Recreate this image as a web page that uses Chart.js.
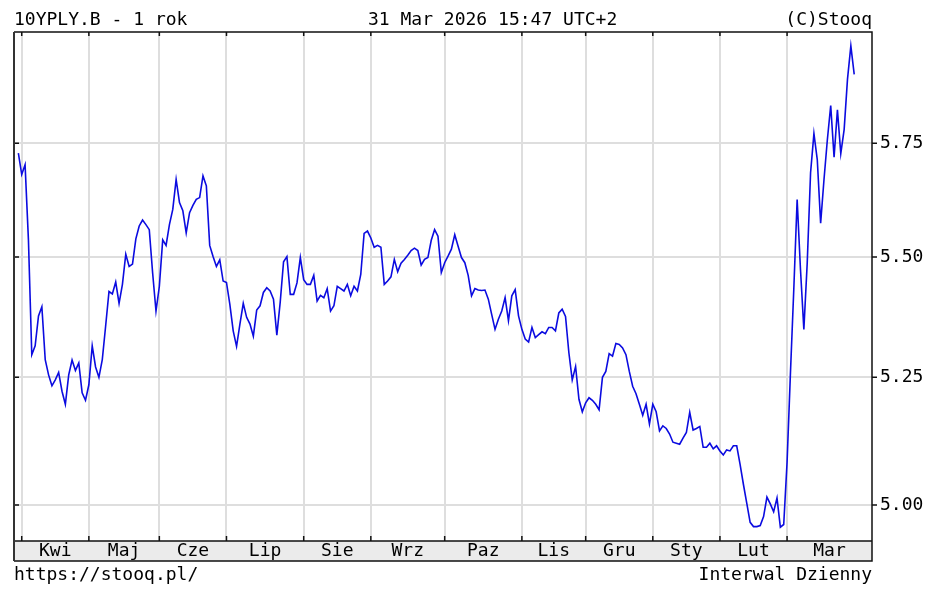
<!DOCTYPE html>
<html>
<head>
<meta charset="utf-8">
<title>10YPLY.B - 1 rok</title>
<script src="https://cdn.jsdelivr.net/npm/chart.js@4/dist/chart.umd.min.js"></script>
<style>
  html, body { margin: 0; padding: 0; background: #fff; }
  canvas { display: block; }
</style>
</head>
<body>
<canvas id="line_chart1" width="927" height="589"></canvas>
<script>
'use strict';

// month labels (Polish, as on stooq) and price axis ticks
var monthLabels = ['Kwi', 'Maj', 'Cze', 'Lip', 'Sie', 'Wrz', 'Paz', 'Lis', 'Gru', 'Sty', 'Lut', 'Mar'];
var yTicks = [5.00, 5.25, 5.50, 5.75];

// daily closes, one array per month (last close of march 2025 first)
var mar2025 = [5.728];
var apr = [5.680, 5.702, 5.537, 5.296, 5.314, 5.376, 5.395, 5.286, 5.255, 5.233,
    5.245, 5.260, 5.222, 5.196, 5.255, 5.285, 5.264, 5.279, 5.219, 5.204];
var may = [5.235, 5.314, 5.271, 5.250, 5.286, 5.355, 5.427, 5.422, 5.447, 5.402,
    5.442, 5.506, 5.480, 5.485, 5.539, 5.567, 5.580, 5.570, 5.559, 5.466, 5.386];
var jun = [5.438, 5.537, 5.525, 5.570, 5.603, 5.669, 5.618, 5.600, 5.552, 5.596,
    5.612, 5.625, 5.629, 5.677, 5.655, 5.525, 5.501, 5.480, 5.494, 5.449];
var jul = [5.446, 5.400, 5.345, 5.313, 5.359, 5.402, 5.373, 5.359, 5.334, 5.388,
    5.397, 5.425, 5.435, 5.428, 5.411, 5.336, 5.404, 5.490, 5.501, 5.421,
    5.421, 5.445, 5.499];
var aug = [5.452, 5.442, 5.442, 5.461, 5.407, 5.419, 5.414, 5.433, 5.386, 5.397,
    5.438, 5.433, 5.428, 5.442, 5.418, 5.438, 5.428, 5.463, 5.551, 5.556];
var sep = [5.541, 5.521, 5.525, 5.521, 5.442, 5.449, 5.458, 5.495, 5.469, 5.487,
    5.495, 5.504, 5.514, 5.519, 5.514, 5.483, 5.495, 5.499, 5.536, 5.559,
    5.545, 5.467];
var oct = [5.488, 5.502, 5.517, 5.548, 5.523, 5.499, 5.488, 5.461, 5.418, 5.433,
    5.430, 5.429, 5.430, 5.411, 5.379, 5.348, 5.369, 5.386, 5.414, 5.366,
    5.418, 5.431, 5.376];
var nov = [5.348, 5.328, 5.322, 5.352, 5.331, 5.337, 5.343, 5.339, 5.352, 5.352,
    5.345, 5.382, 5.390, 5.375, 5.300, 5.245, 5.272, 5.206, 5.181];
var dec = [5.199, 5.209, 5.204, 5.196, 5.185, 5.250, 5.262, 5.298, 5.293, 5.319,
    5.317, 5.310, 5.296, 5.262, 5.232, 5.217, 5.196, 5.174, 5.196, 5.157];
var jan = [5.196, 5.181, 5.143, 5.153, 5.148, 5.137, 5.121, 5.119, 5.117, 5.129,
    5.140, 5.180, 5.145, 5.148, 5.152, 5.111, 5.111, 5.119, 5.108, 5.114];
var feb = [5.104, 5.096, 5.106, 5.104, 5.114, 5.114, 5.078, 5.039, 5.003, 4.967,
    4.959, 4.959, 4.961, 4.978, 5.015, 5.002, 4.987, 5.013, 4.958, 4.963];
var mar = [5.082, 5.258, 5.431, 5.625, 5.473, 5.348, 5.487, 5.684, 5.772, 5.713,
    5.573, 5.669, 5.758, 5.836, 5.719, 5.826, 5.727, 5.781, 5.897, 5.975, 5.908];

var months = [apr, may, jun, jul, aug, sep, oct, nov, dec, jan, feb, mar];

// stooq price axis is not linear, fitted as log(v - 1)
var Y_SHIFT = 1;
var Y_MIN = 4.932, Y_MAX = 6.008;
var X_MIN = -1.3, X_MAX = 254.3;

class ShiftLogScale extends Chart.LinearScale {
    getPixelForValue(value) {
        let a = Math.log(this.min - Y_SHIFT);
        let b = Math.log(this.max - Y_SHIFT);
        return this.getPixelForDecimal((Math.log(value - Y_SHIFT) - a) / (b - a));
    }
    getValueForPixel(pixel) {
        let a = Math.log(this.min - Y_SHIFT);
        let b = Math.log(this.max - Y_SHIFT);
        return Y_SHIFT + Math.exp(a + this.getDecimalForPixel(pixel) * (b - a));
    }
}
ShiftLogScale.id = 'shiftlog';
ShiftLogScale.defaults = Chart.LinearScale.defaults;
Chart.register(ShiftLogScale);

// trading day index for every close
let values = mar2025.slice();
let monthStart = [];
months.forEach(m => {
    monthStart.push(values.length);
    values = values.concat(m);
});
let points = values.map((v, i) => ({ x: i, y: v }));

// label positions: middle of each month
let monthMid = monthStart.map((s, k) => {
    let end = k + 1 < monthStart.length ? monthStart[k + 1] : X_MAX;
    return (s + end) / 2;
});

const FONT = '"DejaVu Sans Mono", monospace';

let framePlugin = {
    id: 'stooqFrame',
    beforeDraw: function(chart) {
        let ctx = chart.ctx;
        let area = chart.chartArea;
        let band = chart.scales.x2;
        ctx.save();
        ctx.fillStyle = '#ffffff';
        ctx.fillRect(0, 0, chart.width, chart.height);
        ctx.fillStyle = '#ebebeb';
        ctx.fillRect(area.left, band.top, area.right - area.left, band.bottom - band.top);
        ctx.restore();
    },
    afterDraw: function(chart) {
        let ctx = chart.ctx;
        let area = chart.chartArea;
        let band = chart.scales.x2;
        let xs = chart.scales.x;
        let ys = chart.scales.y;
        ctx.save();
        ctx.strokeStyle = '#111';
        ctx.lineWidth = 1.5;
        ctx.beginPath();
        ctx.moveTo(area.left, area.top);
        ctx.lineTo(area.right, area.top);
        ctx.lineTo(area.right, band.bottom);
        ctx.lineTo(area.left, band.bottom);
        ctx.moveTo(area.left, area.bottom);
        ctx.lineTo(area.right, area.bottom);
        // small ticks at month starts
        monthStart.forEach(i => {
            let px = xs.getPixelForValue(i);
            ctx.moveTo(px, area.top);
            ctx.lineTo(px, area.top + 4);
            ctx.moveTo(px, area.bottom);
            ctx.lineTo(px, area.bottom - 5);
        });
        // ticks on price levels
        yTicks.forEach(v => {
            let py = ys.getPixelForValue(v);
            ctx.moveTo(area.left, py);
            ctx.lineTo(area.left + 5, py);
            ctx.moveTo(area.right, py);
            ctx.lineTo(area.right + 5, py);
        });
        ctx.stroke();
        ctx.strokeStyle = '#333';
        ctx.lineWidth = 2;
        ctx.beginPath();
        ctx.moveTo(area.left, area.top);
        ctx.lineTo(area.left, band.bottom);
        ctx.stroke();

        ctx.fillStyle = '#000';
        ctx.font = '18px ' + FONT;
        ctx.textBaseline = 'alphabetic';
        ctx.textAlign = 'left';
        ctx.fillText('10YPLY.B - 1 rok', area.left, 25);
        ctx.fillText('31 Mar 2026 15:47 UTC+2', 368, 25);
        ctx.fillText('https://stooq.pl/', area.left, 580);
        ctx.textAlign = 'right';
        ctx.fillText('(C)Stooq', area.right, 25);
        ctx.fillText('Interwal Dzienny', area.right, 580);
        ctx.restore();
    }
};

let data = {
    datasets: [
        {
            label: '10YPLY.B',
            data: points,
            fill: false,
            borderColor: '#0b0be0',
            borderWidth: 1.6,
            pointRadius: 0,
            tension: 0
        }
    ]
};

let config = {
    type: 'line',
    data: data,
    options: {
        responsive: false,
        animation: false,
        devicePixelRatio: 1,
        layout: {
            padding: { left: 14, top: 32, right: 0, bottom: 28 }
        },
        plugins: {
            legend: { display: false },
            tooltip: { enabled: false }
        },
        scales: {
            x: {
                type: 'linear',
                position: 'bottom',
                min: X_MIN,
                max: X_MAX,
                afterBuildTicks: scale => {
                    scale.ticks = monthStart.map(i => ({ value: i }));
                },
                ticks: { display: false },
                grid: { color: '#dedede', lineWidth: 2, drawTicks: false },
                border: { display: false }
            },
            x2: {
                type: 'linear',
                position: 'bottom',
                min: X_MIN,
                max: X_MAX,
                afterBuildTicks: scale => {
                    scale.ticks = monthMid.map(i => ({ value: i }));
                },
                ticks: {
                    autoSkip: false,
                    maxRotation: 0,
                    padding: 0,
                    color: '#000',
                    font: { family: FONT, size: 18, lineHeight: '20px' },
                    callback: (value, index) => monthLabels[index]
                },
                grid: { display: false, drawTicks: false },
                border: { display: false }
            },
            y: {
                type: 'shiftlog',
                position: 'right',
                min: Y_MIN,
                max: Y_MAX,
                afterBuildTicks: scale => {
                    scale.ticks = yTicks.map(v => ({ value: v }));
                },
                afterFit: scale => {
                    scale.width = 55;
                },
                ticks: {
                    padding: 8,
                    color: '#000',
                    font: { family: FONT, size: 18 },
                    callback: value => value.toFixed(2)
                },
                grid: { color: '#dedede', lineWidth: 2, drawTicks: false },
                border: { display: false }
            }
        }
    },
    plugins: [framePlugin]
};

new Chart(document.getElementById('line_chart1').getContext('2d'), config);
</script>
</body>
</html>
